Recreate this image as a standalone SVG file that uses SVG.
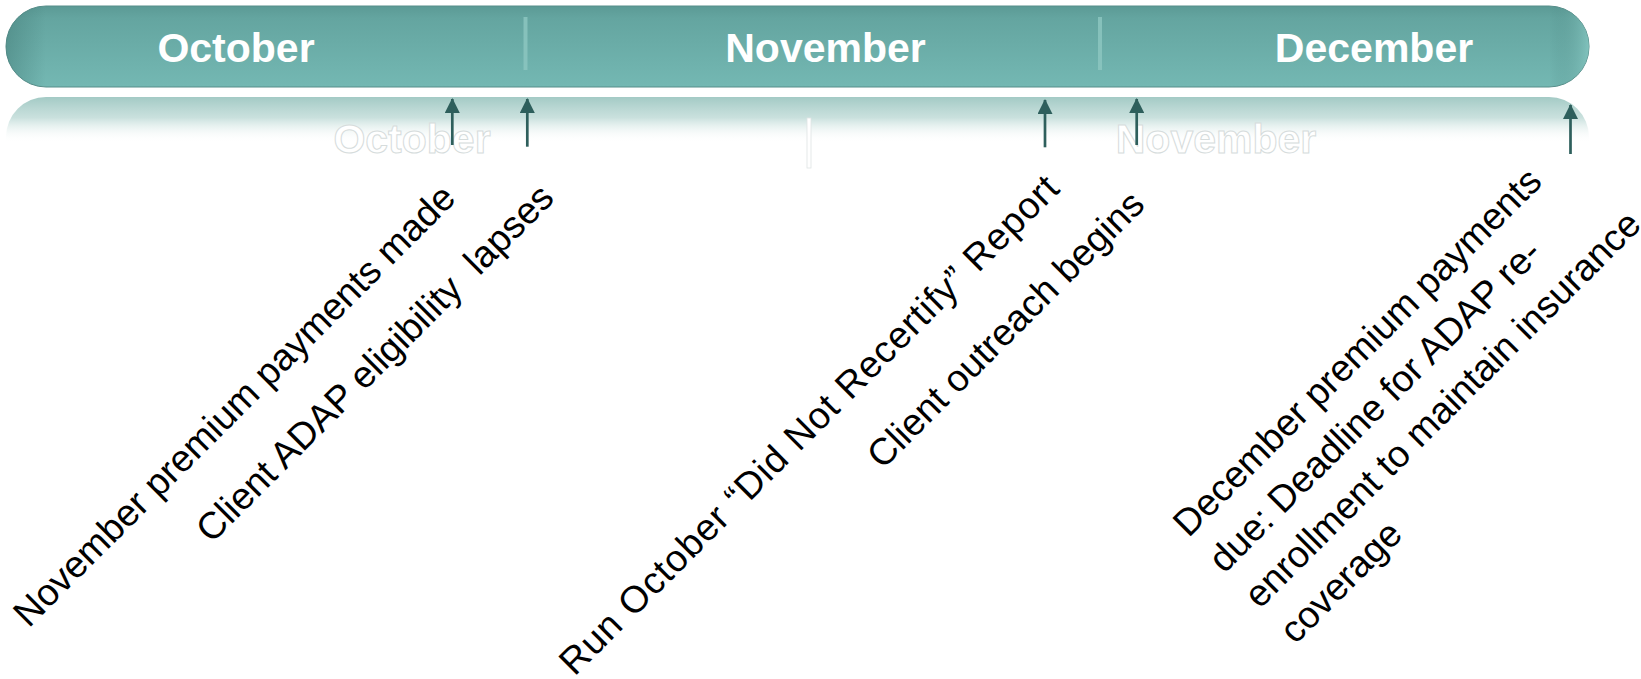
<svg xmlns="http://www.w3.org/2000/svg" width="1641" height="679" viewBox="0 0 1641 679">
  <defs>
    <linearGradient id="barGrad" x1="0" y1="0" x2="0" y2="1">
      <stop offset="0" stop-color="#5b9a95"/>
      <stop offset="0.15" stop-color="#64a5a0"/>
      <stop offset="1" stop-color="#74b8b3"/>
    </linearGradient>
    <linearGradient id="endShade" x1="0" y1="0" x2="1" y2="0">
      <stop offset="0" stop-color="#3f7773" stop-opacity="0.45"/>
      <stop offset="0.025" stop-color="#3f7773" stop-opacity="0"/>
      <stop offset="0.975" stop-color="#3f7773" stop-opacity="0"/>
      <stop offset="1" stop-color="#8fd0ca" stop-opacity="0.6"/>
    </linearGradient>
    <linearGradient id="reflGrad" x1="0" y1="0" x2="0" y2="1">
      <stop offset="0" stop-color="#a3cac5" stop-opacity="1"/>
      <stop offset="0.25" stop-color="#bcd9d5" stop-opacity="0.8"/>
      <stop offset="0.55" stop-color="#ffffff" stop-opacity="0"/>
      <stop offset="1" stop-color="#ffffff" stop-opacity="0"/>
    </linearGradient>
    <marker id="arrowHead" markerUnits="userSpaceOnUse" markerWidth="15" markerHeight="15" refX="14" refY="7.5" orient="auto">
      <path d="M0,0 L15,7.5 L0,15 z" fill="#2e5f5c"/>
    </marker>
    <style>
      .month { font-family: "Liberation Sans", Arial, sans-serif; font-weight: bold; font-size: 41px; fill: #ffffff; text-anchor: middle; }
      .ghost { font-family: "Liberation Sans", Arial, sans-serif; font-weight: bold; font-size: 41px; fill: #ffffff; stroke: #d6dcdc; stroke-width: 1; text-anchor: middle; }
      .divider { fill: #8cc5c0; opacity: 0.85; }
      .label { font-family: "Liberation Sans", Arial, sans-serif; font-size: 37.5px; fill: #000000; white-space: pre; }
      .conn { stroke: #2e5f5c; stroke-width: 2.7; fill: none; marker-end: url(#arrowHead); }
    </style>
  </defs>

  <g id="timeline-reflection">
    <rect x="6" y="97" width="1583" height="83" rx="40" ry="40" fill="url(#reflGrad)"/>
    <text class="ghost" x="412" y="153">October</text>
    <text class="ghost" x="1216" y="153">November</text>
    <rect x="807" y="118" width="4" height="50" fill="#ffffff" stroke="#dfe4e4" stroke-width="0.8"/>
  </g>

  <g id="timeline-bar">
    <rect x="6" y="6" width="1583" height="81" rx="40" ry="40" fill="url(#barGrad)" stroke="#578e8a" stroke-width="1"/>
    <rect x="6" y="6" width="1583" height="81" rx="40" ry="40" fill="url(#endShade)"/>
    <rect class="divider" x="523.5" y="17" width="4" height="53"/>
    <rect class="divider" x="1098" y="17" width="4" height="53"/>
  </g>

  <g id="month-october">
    <text class="month" x="236" y="62">October</text>
  </g>
  <g id="month-november">
    <text class="month" x="825.5" y="62">November</text>
  </g>
  <g id="month-december">
    <text class="month" x="1374" y="62">December</text>
  </g>

  <g id="connectors">
    <line class="conn" x1="452.3" y1="145" x2="452.3" y2="99"/>
    <line class="conn" x1="527.3" y1="146.7" x2="527.3" y2="99"/>
    <line class="conn" x1="1045" y1="147.3" x2="1045" y2="100"/>
    <line class="conn" x1="1136.7" y1="145" x2="1136.7" y2="99"/>
    <line class="conn" x1="1570.5" y1="154" x2="1570.5" y2="105"/>
  </g>

  <g id="event-november-premium">
    <text class="label" transform="rotate(-45)" x="-424.3" y="464.9">November premium payments made</text>
  </g>
  <g id="event-eligibility-lapses">
    <text class="label" transform="rotate(-45)" x="-235.3" y="534.4" xml:space="preserve">Client ADAP eligibility  lapses</text>
  </g>
  <g id="event-run-report">
    <text class="label" transform="rotate(-45)" x="-72.5" y="885.1" textLength="688" lengthAdjust="spacing">Run October “Did Not Recertify” Report</text>
  </g>
  <g id="event-client-outreach">
    <text class="label" transform="rotate(-45)" x="291.5" y="956.6">Client outreach begins</text>
  </g>
  <g id="event-december-deadline">
    <text class="label" transform="rotate(-45)">
      <tspan x="459.6" y="1221.3">December premium payments</tspan>
      <tspan x="459.6" y="1271.6">due: Deadline for ADAP re-</tspan>
      <tspan x="459.6" y="1321.9">enrollment to maintain insurance</tspan>
      <tspan x="459.6" y="1372.2">coverage</tspan>
    </text>
  </g>
</svg>
